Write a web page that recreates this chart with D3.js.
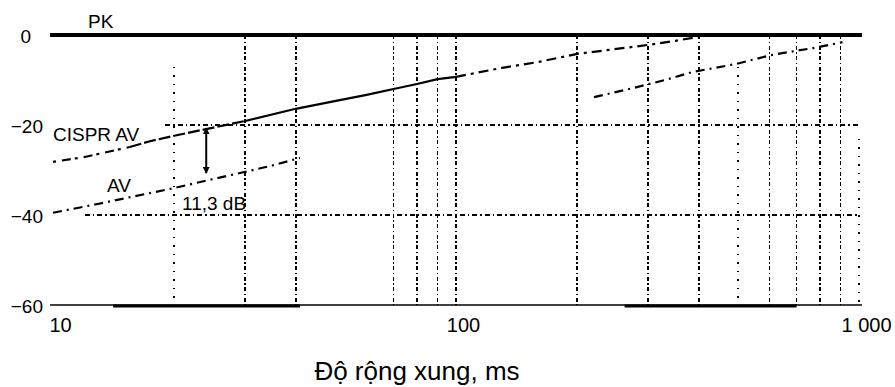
<!DOCTYPE html>
<html lang="vi">
<head>
<meta charset="UTF-8">
<title>PK / CISPR AV / AV</title>
<script src="https://d3js.org/d3.v7.min.js"></script>
<style>
  body { margin: 0; background: #fff; }
  svg { display: block; font-family: "Liberation Sans", Arial, sans-serif; }
</style>
</head>
<body>
<div id="chart"></div>
<script>
    // ----------- Data ----------- //

  var xTicks = [10, 100, 1000];
  var xTickLabels = ["10", "100", "1 000"];
  var yTicks = [0, -20, -40, -60];
  var yTickLabels = ["0", "\u221220", "\u221240", "\u221260"];

  var gridX = [30, 40, 70, 80, 90, 100, 200, 300, 400, 600, 700, 800, 900];
  var gridXFaint = [20, 500, 1000];
  var gridY = [-20, -40];
  var gridYFrom = [19, 12];

  // CISPR AV curve (pulse width ms -> dB)
  var cisprT = [10, 12, 15.5, 17.4, 20, 24, 30, 40, 50, 60, 70, 80, 90, 100, 130, 160, 200, 250, 300, 350, 400];
  var cisprDb = [-28.2, -27.1, -24.9, -23.6, -22.4, -20.9, -19.1, -16.4, -14.7, -13.3, -12, -10.9, -9.8, -9.3, -7.3, -6, -4.2, -3.1, -2.2, -1.3, -0.4];

  // AV curve, two visible pieces
  var avT1 = [10, 13, 16, 20, 25, 30, 35, 41];
  var avDb1 = [-39.5, -37.5, -35.8, -34, -32, -30.4, -29, -27.3];
  var avT2 = [220, 275, 330, 387, 440, 497, 610, 700, 770, 910];
  var avDb2 = [-13.8, -11.8, -10, -8.2, -7.3, -6.4, -4.4, -3.5, -2.9, -1.6];

  var pkDb = 0;
  var gapT = 24;
  var gapDb = [-20.7, -30.7];
  var gapLabel = "11,3 dB";

  var bottomThick = [[14.1, 41], [262, 700]];

    // ----------- Basic Variables ----------- //

  var width = 895;
  var height = 387;

  var x = d3.scaleLog().domain([10, 1000]).range([53, 859]);
  var y = d3.scaleLinear().domain([-60, 0]).range([305, 35]);

  var svg = d3.select("#chart")
    .append("svg")
    .attr("width", width)
    .attr("height", height);

  var line = d3.line()
    .x(d => x(d[0]))
    .y(d => y(d[1]));

  function pairs(ts, vs) {
    return ts.map((t, i) => [t, vs[i]]);
  }

    // ----------- Grid ----------- //

  svg.selectAll(".vgrid")
    .data(gridX)
    .enter()
    .append("line")
      .attr("x1", d => x(d)).attr("x2", d => x(d))
      .attr("y1", y(0)).attr("y2", y(-60))
      .style("stroke", "#000")
      .style("stroke-width", 1.8)
      .style("shape-rendering", "crispEdges")
      .style("stroke-dasharray", "4,2.5,1.5,2.5");

  svg.selectAll(".vgridf")
    .data(gridXFaint)
    .enter()
    .append("line")
      .attr("x1", d => x(d)).attr("x2", d => x(d))
      .attr("y1", (d, i) => i == 2 ? y(-23) : y(-7))
      .attr("y2", y(-60))
      .style("stroke", "#000")
      .style("stroke-width", 1.8)
      .style("shape-rendering", "crispEdges")
      .style("stroke-dasharray", "1.5,7");

  svg.selectAll(".hgrid")
    .data(gridY)
    .enter()
    .append("line")
      .attr("x1", (d, i) => x(gridYFrom[i])).attr("x2", x(1000))
      .attr("y1", d => y(d)).attr("y2", d => y(d))
      .style("stroke", "#000")
      .style("stroke-width", 1.8)
      .style("shape-rendering", "crispEdges")
      .style("stroke-dasharray", "5,3,1.5,3");

    // ----------- Curves ----------- //

  var cispr = pairs(cisprT, cisprDb);
  var cisprParts = [
    { pts: cispr.slice(0, 3), dash: "3,6,9,4" },
    { pts: cispr.slice(2, 7), dash: "12,3" },
    { pts: cispr.slice(6, 14), dash: null },
    { pts: cispr.slice(13), dash: "10,5,3,5" }
  ];

  cisprParts.forEach(function(p) {
    svg.append("path")
      .attr("d", line(p.pts))
      .style("fill", "none")
      .style("stroke", "#000")
      .style("stroke-width", 2.2)
      .style("stroke-dasharray", p.dash);
  });

  [pairs(avT1, avDb1), pairs(avT2, avDb2)].forEach(function(pts) {
    svg.append("path")
      .attr("d", line(pts))
      .style("fill", "none")
      .style("stroke", "#000")
      .style("stroke-width", 2.2)
      .style("stroke-dasharray", "9,5,2,5");
  });

    // ----------- PK line and bottom line ----------- //

  svg.append("line")
    .attr("x1", 50).attr("x2", 862)
    .attr("y1", y(pkDb)).attr("y2", y(pkDb))
    .style("stroke", "#000")
    .style("stroke-width", 4);

  svg.append("line")
    .attr("x1", 50).attr("x2", 862)
    .attr("y1", y(-60)).attr("y2", y(-60))
    .style("stroke", "#000")
    .style("stroke-width", 1.6);

  svg.selectAll(".thick")
    .data(bottomThick)
    .enter()
    .append("line")
      .attr("x1", d => x(d[0])).attr("x2", d => x(d[1]))
      .attr("y1", y(-60) + 1).attr("y2", y(-60) + 1)
      .style("stroke", "#000")
      .style("stroke-width", 3);

    // ----------- 11,3 dB arrow ----------- //

  svg.append("defs").append("marker")
    .attr("id", "head")
    .attr("viewBox", "0 0 10 10")
    .attr("refX", 9).attr("refY", 5)
    .attr("markerWidth", 7).attr("markerHeight", 7)
    .attr("markerUnits", "userSpaceOnUse")
    .attr("orient", "auto-start-reverse")
    .append("path")
      .attr("d", "M0,0L10,5L0,10Z")
      .style("fill", "#000");

  svg.append("line")
    .attr("x1", x(gapT)).attr("x2", x(gapT))
    .attr("y1", y(gapDb[0])).attr("y2", y(gapDb[1]))
    .attr("marker-start", "url(#head)")
    .attr("marker-end", "url(#head)")
    .style("stroke", "#000")
    .style("stroke-width", 2);

    // ----------- Axes ----------- //

  var xAxis = svg.append("g")
    .attr("transform", "translate(0," + y(-60) + ")")
    .call(d3.axisBottom(x).tickValues(xTicks).tickFormat((d, i) => xTickLabels[i]).tickSize(0).tickPadding(12.8));
  xAxis.select(".domain").remove();
  xAxis.selectAll("text")
    .attr("dx", 7)
    .style("font-size", "20px")
    .style("fill", "#000");

  var yAxis = svg.append("g")
    .attr("transform", "translate(45,0)")
    .call(d3.axisLeft(y).tickValues(yTicks).tickFormat((d, i) => yTickLabels[i]).tickSize(0).tickPadding(2));
  yAxis.select(".domain").remove();
  yAxis.selectAll("text")
    .attr("dy", "0.38em")
    .attr("x", d => d == 0 ? -14 : -2)
    .style("font-size", "19px")
    .style("fill", "#000");

    // ----------- Labels ----------- //

  var labels = [
    { text: "PK", x: 88, y: 28 },
    { text: "CISPR AV", x: 53, y: 141 },
    { text: "AV", x: 107, y: 192 },
    { text: gapLabel, x: 182, y: 210 }
  ];

  svg.selectAll(".lbl")
    .data(labels)
    .enter()
    .append("text")
      .attr("x", d => d.x)
      .attr("y", d => d.y)
      .style("font-size", "19px")
      .style("fill", "#000")
      .text(d => d.text);

  svg.append("text")
    .attr("x", 417)
    .attr("y", 380)
    .attr("text-anchor", "middle")
    .style("font-size", "26px")
    .style("fill", "#000")
    .text("Độ rộng xung, ms");
</script>
</body>
</html>
